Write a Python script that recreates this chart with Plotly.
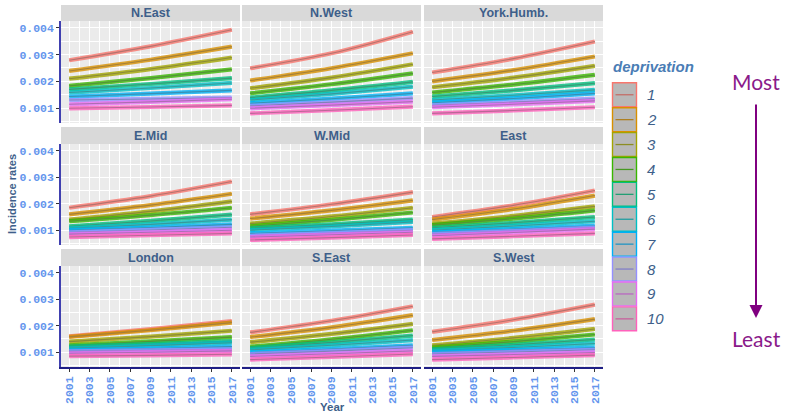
import plotly.graph_objects as go

# ---------------- data ----------------
years = [2001, 2009, 2017]
regions = ["N.East", "N.West", "York.Humb.", "E.Mid", "W.Mid", "East",
           "London", "S.East", "S.West"]
deprivation = ["1", "2", "3", "4", "5", "6", "7", "8", "9", "10"]

# incidence rates per deprivation decile (1..10) at 2001, 2009, 2017
n_east = [[0.00279, 0.00331, 0.00393], [0.00239, 0.00281, 0.00330], [0.00210, 0.00246, 0.00289],
          [0.00183, 0.00212, 0.00245], [0.00170, 0.00190, 0.00212], [0.00158, 0.00175, 0.00194],
          [0.00143, 0.00154, 0.00166], [0.00130, 0.00134, 0.00139], [0.00114, 0.00123, 0.00133],
          [0.00099, 0.00104, 0.00110]]
n_west = [[0.00249, 0.00305, 0.00386], [0.00203, 0.00249, 0.00305], [0.00174, 0.00214, 0.00264],
          [0.00155, 0.00189, 0.00230], [0.00139, 0.00166, 0.00198], [0.00130, 0.00153, 0.00180],
          [0.00118, 0.00135, 0.00155], [0.00108, 0.00122, 0.00137], [0.00099, 0.00111, 0.00124],
          [0.00080, 0.00092, 0.00105]]
york_humb = [[0.00233, 0.00285, 0.00349], [0.00200, 0.00242, 0.00293], [0.00178, 0.00214, 0.00258],
             [0.00158, 0.00188, 0.00224], [0.00143, 0.00166, 0.00193], [0.00130, 0.00148, 0.00168],
             [0.00120, 0.00136, 0.00155], [0.00110, 0.00122, 0.00135], [0.00103, 0.00114, 0.00127],
             [0.00080, 0.00091, 0.00103]]
e_mid = [[0.00185, 0.00229, 0.00284], [0.00160, 0.00195, 0.00238], [0.00140, 0.00171, 0.00209],
         [0.00134, 0.00157, 0.00185], [0.00115, 0.00135, 0.00159], [0.00107, 0.00122, 0.00140],
         [0.00100, 0.00110, 0.00122], [0.00092, 0.00101, 0.00111], [0.00085, 0.00092, 0.00100],
         [0.00074, 0.00081, 0.00088]]
w_mid = [[0.00160, 0.00198, 0.00244], [0.00144, 0.00175, 0.00213], [0.00125, 0.00152, 0.00185],
         [0.00115, 0.00139, 0.00167], [0.00107, 0.00122, 0.00140], [0.00100, 0.00114, 0.00131],
         [0.00088, 0.00098, 0.00109], [0.00079, 0.00089, 0.00100], [0.00074, 0.00083, 0.00092],
         [0.00063, 0.00072, 0.00082]]
east = [[0.00150, 0.00194, 0.00250], [0.00140, 0.00180, 0.00231], [0.00125, 0.00154, 0.00190],
        [0.00119, 0.00144, 0.00175], [0.00109, 0.00128, 0.00150], [0.00100, 0.00116, 0.00134],
        [0.00092, 0.00104, 0.00117], [0.00085, 0.00097, 0.00110], [0.00079, 0.00091, 0.00104],
        [0.00067, 0.00077, 0.00088]]
london = [[0.00160, 0.00187, 0.00218], [0.00158, 0.00183, 0.00212], [0.00140, 0.00159, 0.00181],
          [0.00126, 0.00141, 0.00157], [0.00121, 0.00131, 0.00142], [0.00115, 0.00125, 0.00136],
          [0.00107, 0.00114, 0.00121], [0.00103, 0.00107, 0.00111], [0.00096, 0.00100, 0.00105],
          [0.00085, 0.00088, 0.00092]]
s_east = [[0.00175, 0.00219, 0.00274], [0.00157, 0.00194, 0.00240], [0.00138, 0.00169, 0.00207],
          [0.00121, 0.00149, 0.00183], [0.00115, 0.00137, 0.00163], [0.00109, 0.00126, 0.00146],
          [0.00099, 0.00112, 0.00126], [0.00093, 0.00104, 0.00117], [0.00084, 0.00094, 0.00105],
          [0.00072, 0.00082, 0.00093]]
s_west = [[0.00177, 0.00223, 0.00280], [0.00146, 0.00181, 0.00225], [0.00126, 0.00154, 0.00188],
          [0.00117, 0.00140, 0.00167], [0.00111, 0.00128, 0.00148], [0.00105, 0.00118, 0.00133],
          [0.00099, 0.00108, 0.00117], [0.00093, 0.00101, 0.00109], [0.00084, 0.00091, 0.00099],
          [0.00072, 0.00080, 0.00089]]
region_values = [n_east, n_west, york_humb, e_mid, w_mid, east, london, s_east, s_west]

colors = ['#F8766D', '#D89000', '#A3A500', '#39B600', '#00BF7D',
          '#00BFC4', '#00B0F6', '#9590FF', '#E76BF3', '#FF62BC']

# ---------------- helpers ----------------
W, H = 785, 413


def fx(p):
    return p / W


def fy(p):
    return 1 - p / H


def mix(c, other, t):
    a = [int(c[i:i + 2], 16) for i in (1, 3, 5)]
    b = [int(other[i:i + 2], 16) for i in (1, 3, 5)]
    m = [round(a[k] * (1 - t) + b[k] * t) for k in range(3)]
    return '#%02x%02x%02x' % tuple(m)


def rgba(c, a):
    v = [int(c[i:i + 2], 16) for i in (1, 3, 5)]
    return 'rgba(%d,%d,%d,%.2f)' % (v[0], v[1], v[2], a)


col_px = [(61, 240), (242, 421), (424, 603)]
row_px = [(21, 123), (144, 245), (266, 367)]
strip_px = [(5, 21), (127, 144), (249, 266)]

tick_font = dict(family="Liberation Mono", size=11.5, color="#6495ED", weight="bold")

fig = go.Figure()
layout = {}
shapes = []
annotations = []

for i, (name, vals) in enumerate(zip(regions, region_values)):
    r, c = divmod(i, 3)
    sfx = '' if i == 0 else str(i + 1)
    xa, ya = 'x' + sfx, 'y' + sfx
    for k, series in enumerate(vals):
        col = colors[k]
        fig.add_trace(go.Scatter(x=years, y=series, xaxis=xa, yaxis=ya, mode='lines',
                                 line=dict(color=rgba(col, 0.8), width=4.2, shape='spline'),
                                 showlegend=False, hoverinfo='skip'))
        fig.add_trace(go.Scatter(x=years, y=series, xaxis=xa, yaxis=ya, mode='lines',
                                 line=dict(color=mix(col, '#707070', 0.5), width=1.1, shape='spline'),
                                 showlegend=False, name=deprivation[k]))
    layout['xaxis' + sfx] = dict(
        domain=[fx(col_px[c][0]), fx(col_px[c][1])], anchor=ya,
        range=[2000.2, 2017.8], tick0=2001, dtick=2,
        showgrid=True, gridcolor='white', gridwidth=1.2,
        minor=dict(dtick=1, tick0=2001, showgrid=True, gridcolor='white', gridwidth=0.6),
        zeroline=False, showticklabels=(r == 2), tickangle=-90, tickfont=tick_font,
        ticks='outside' if r == 2 else '', ticklen=3, tickcolor='#333333',
        showline=(r == 2), linecolor='#1f1f85', linewidth=1.6)
    layout['yaxis' + sfx] = dict(
        domain=[fy(row_px[r][1]), fy(row_px[r][0])], anchor=xa,
        range=[0.00044, 0.00426], tick0=0, dtick=0.001, tickformat='.3f',
        showgrid=True, gridcolor='white', gridwidth=1.2,
        minor=dict(dtick=0.0005, showgrid=True, gridcolor='white', gridwidth=0.6),
        zeroline=False, showticklabels=(c == 0), tickfont=tick_font,
        ticks='outside' if c == 0 else '', ticklen=3, tickcolor='#333333',
        showline=(c == 0), linecolor='#4040b0', linewidth=1.6)
    # strip
    shapes.append(dict(type='rect', xref='paper', yref='paper',
                       x0=fx(col_px[c][0]), x1=fx(col_px[c][1]),
                       y0=fy(strip_px[r][1]), y1=fy(strip_px[r][0]),
                       fillcolor='#D9D9D9', line=dict(width=0), layer='below'))
    annotations.append(dict(text='<b>%s</b>' % name, xref='paper', yref='paper',
                            x=fx((col_px[c][0] + col_px[c][1]) / 2),
                            y=fy((strip_px[r][0] + strip_px[r][1]) / 2),
                            showarrow=False, xanchor='center', yanchor='middle',
                            font=dict(family='Liberation Sans', size=12.5, color='#3e5f8a')))

# axis titles
annotations.append(dict(text='<b>Incidence rates</b>', xref='paper', yref='paper',
                        x=fx(12), y=fy(194), textangle=-90, showarrow=False,
                        xanchor='center', yanchor='middle',
                        font=dict(family='Liberation Sans', size=11, color='#3e5f8a')))
annotations.append(dict(text='<b>Year</b>', xref='paper', yref='paper',
                        x=fx(332), y=fy(407), showarrow=False,
                        xanchor='center', yanchor='middle',
                        font=dict(family='Liberation Sans', size=11.5, color='#3e5f8a')))

# legend (drawn manually to mimic ggplot keys)
annotations.append(dict(text='<b><i>deprivation</i></b>', xref='paper', yref='paper',
                        x=fx(611), y=fy(66), showarrow=False, xanchor='left', yanchor='middle',
                        font=dict(family='Liberation Sans', size=15, color='#4a7db5')))
for k, lab in enumerate(deprivation):
    top = 82.3 + 24.9 * k
    bot = top + 24.9
    mid = (top + bot) / 2
    shapes.append(dict(type='rect', xref='paper', yref='paper',
                       x0=fx(612.5), x1=fx(636.5), y0=fy(bot - 0.5), y1=fy(top + 0.5),
                       fillcolor='#B8B8B8', line=dict(color=colors[k], width=1.4)))
    shapes.append(dict(type='line', xref='paper', yref='paper',
                       x0=fx(615.5), x1=fx(633.5), y0=fy(mid), y1=fy(mid),
                       line=dict(color=mix(colors[k], '#606060', 0.35), width=1.3)))
    annotations.append(dict(text='<i>%s</i>' % lab, xref='paper', yref='paper',
                            x=fx(645), y=fy(mid), showarrow=False, xanchor='left', yanchor='middle',
                            font=dict(family='Liberation Sans', size=15, color='#3e5f8a')))

# Most -> Least arrow
purple = '#8a1a8a'
annotations.append(dict(text='Most', xref='paper', yref='paper', x=fx(756), y=fy(81),
                        showarrow=False, xanchor='center', yanchor='middle',
                        font=dict(family='Lato', size=21, color=purple)))
annotations.append(dict(text='Least', xref='paper', yref='paper', x=fx(756), y=fy(338),
                        showarrow=False, xanchor='center', yanchor='middle',
                        font=dict(family='Lato', size=21, color=purple)))
annotations.append(dict(text='', xref='paper', yref='paper', x=fx(756), y=fy(318),
                        ax=0, ay=-215, axref='pixel', ayref='pixel', showarrow=True,
                        arrowhead=2, arrowsize=1.3, arrowwidth=2, arrowcolor='#800080'))

layout.update(dict(width=W, height=H, margin=dict(l=0, r=0, t=0, b=0),
                   paper_bgcolor='white', plot_bgcolor='#EBEBEB', showlegend=False,
                   shapes=shapes, annotations=annotations))
fig.update_layout(**layout)
fig.write_html("out.html", config={"displayModeBar": False},
               post_script="document.body.style.margin='0px';document.body.style.overflow='hidden';")
